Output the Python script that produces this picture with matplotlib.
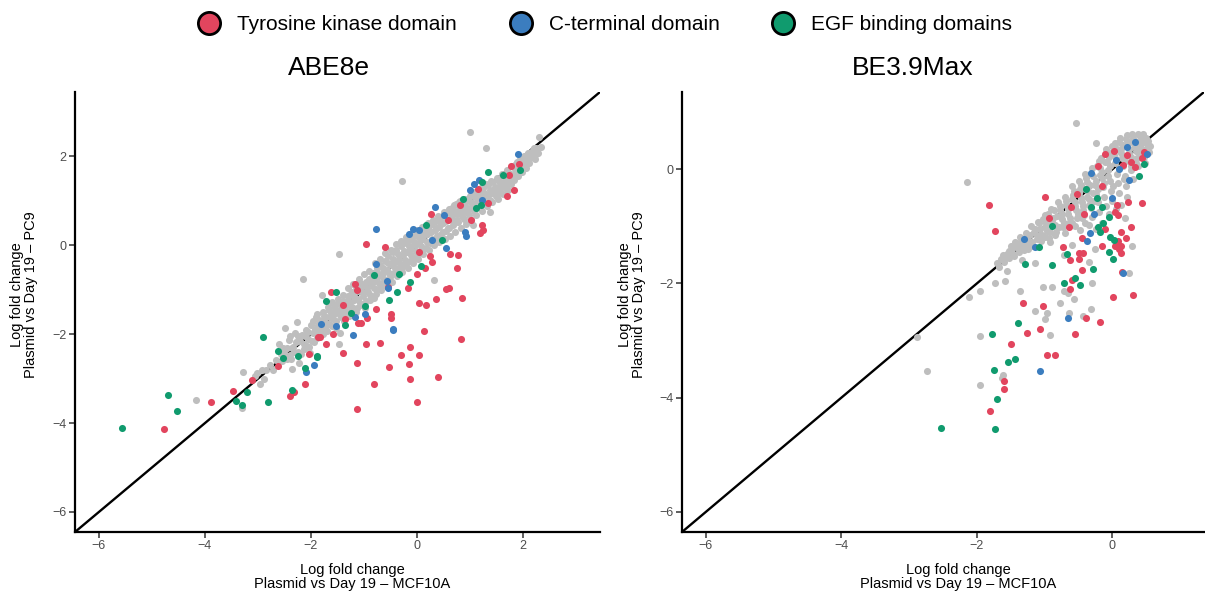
import numpy as np
import matplotlib.pyplot as plt
from matplotlib.lines import Line2D

plt.rcParams['font.family'] = ['Liberation Sans', 'DejaVu Sans']

# ── colours per domain ─────────────────────────────────────────
GREY = '#BEBEBE'
RED = '#E2455E'
BLUE = '#3B7DBF'
GREEN = '#109B6E'

domains = ['Tyrosine kinase domain', 'C-terminal domain', 'EGF binding domains']

# ── ABE8e: (MCF10A LFC, PC9 LFC) ───────────────────────────────
abe_other = [
    (-4.16, -3.47), (-3.31, -3.66), (-3.29, -2.86), (-3.06, -2.93), (-3.02, -2.87), (-2.96, -3.11),
    (-2.93, -2.81), (-2.88, -3.01), (-2.84, -2.80), (-2.78, -2.70), (-2.71, -2.81), (-2.66, -2.58),
    (-2.60, -2.22), (-2.57, -2.44), (-2.52, -2.31), (-2.49, -1.85), (-2.46, -2.55), (-2.42, -2.13),
    (-2.40, -2.04), (-2.40, -2.47), (-2.36, -2.79), (-2.35, -2.30), (-2.33, -2.28), (-2.30, -1.98),
    (-2.27, -1.72), (-2.25, -2.40), (-2.22, -2.64), (-2.20, -2.15), (-2.17, -2.02), (-2.16, -0.76),
    (-2.13, -2.33), (-2.10, -1.90), (-2.08, -2.27), (-2.05, -2.10), (-2.02, -2.43), (-2.00, -1.80),
    (-1.97, -1.98), (-1.94, -2.18), (-1.91, -1.62), (-1.89, -1.55), (-1.87, -1.80), (-1.84, -1.95),
    (-1.80, -1.11), (-1.80, -1.70), (-1.77, -1.50), (-1.74, -1.86), (-1.71, -1.62), (-1.68, -1.38),
    (-1.66, -1.76), (-1.63, -1.52), (-1.60, -1.28), (-1.58, -1.66), (-1.55, -1.42), (-1.52, -1.85),
    (-1.50, -1.20), (-1.48, -2.21), (-1.47, -0.20), (-1.46, -1.56), (-1.45, -1.98), (-1.43, -1.35),
    (-1.40, -1.12), (-1.38, -1.70), (-1.35, -1.46), (-1.32, -1.25), (-1.30, -0.95), (-1.28, -1.58),
    (-1.25, -1.10), (-1.22, -1.38), (-1.20, -0.88), (-1.18, -1.22), (-1.15, -1.50), (-1.12, -1.02),
    (-1.10, -0.75), (-1.08, -1.30), (-1.05, -0.92), (-1.02, -1.15), (-1.00, -0.65), (-0.98, -1.40),
    (-0.96, -0.82), (-0.93, -1.05), (-0.90, -0.58), (-0.88, -1.22), (-0.85, -0.72), (-0.82, -0.95),
    (-0.80, -0.40), (-0.78, -1.10), (-0.75, -0.60), (-0.72, -0.85), (-0.70, -0.30), (-0.68, -1.00),
    (-0.65, -0.50), (-0.62, -0.75), (-0.60, -0.18), (-0.58, -0.92), (-0.55, -0.40), (-0.52, -0.62),
    (-0.50, -0.10), (-0.48, -0.82), (-0.45, -0.30), (-0.42, -0.52), (-0.40, 0.02), (-0.38, -0.70),
    (-0.35, -0.20), (-0.32, -0.42), (-0.30, 0.10), (-0.28, -0.60), (-0.25, -0.12), (-0.22, -0.32),
    (-0.20, 0.18), (-0.18, -0.50), (-0.15, -0.02), (-0.12, -0.22), (-0.10, 0.28), (-0.08, -0.40),
    (-0.05, 0.08), (-0.02, -0.12), (0.00, 0.35), (0.02, -0.30), (0.05, 0.15), (0.08, -0.02),
    (0.10, 0.42), (0.12, -0.20), (0.15, 0.25), (0.18, 0.08), (0.20, 0.50), (0.22, -0.10),
    (0.25, 0.32), (0.28, 0.15), (0.30, 0.58), (0.32, 0.00), (0.35, 0.40), (0.38, 0.22),
    (0.40, 0.65), (0.42, 0.08), (0.45, 0.48), (0.48, 0.30), (0.50, 0.75), (0.52, 0.15),
    (0.55, 0.55), (0.58, 0.38), (0.60, 0.82), (0.62, 0.22), (0.65, 0.62), (0.68, 0.45),
    (0.70, 0.90), (0.72, 0.30), (0.75, 0.70), (0.78, 0.52), (0.80, 0.98), (0.82, 0.40),
    (0.85, 0.78), (0.88, 0.60), (0.90, 1.05), (0.92, 0.48), (0.95, 0.85), (0.98, 0.68),
    (1.00, 1.12), (1.02, 0.58), (1.06, 0.46), (1.05, 0.92), (1.08, 0.78), (1.10, 1.20),
    (1.12, 0.68), (1.15, 1.00), (1.18, 0.85), (1.20, 1.28), (1.22, 0.78), (1.25, 1.08),
    (1.28, 0.95), (1.30, 1.38), (1.30, 2.19), (1.32, 0.88), (1.35, 1.15), (1.38, 0.75),
    (1.38, 1.02), (1.40, 1.45), (1.42, 0.98), (1.45, 1.25), (1.48, 1.10), (1.50, 1.52),
    (1.52, 1.05), (1.55, 1.32), (1.58, 1.18), (1.60, 1.60), (1.62, 1.15), (1.65, 1.42),
    (1.68, 1.28), (1.70, 1.70), (1.72, 1.25), (1.75, 1.52), (1.78, 1.38), (1.80, 1.78),
    (1.82, 1.48), (1.85, 1.62), (1.88, 1.88), (1.90, 1.55), (1.92, 1.72), (1.95, 1.95),
    (1.98, 1.65), (2.00, 1.82), (2.02, 2.02), (2.05, 1.75), (2.08, 1.92), (2.10, 2.08),
    (2.12, 1.85), (2.15, 2.00), (2.18, 2.12), (2.22, 1.95), (2.25, 2.18), (2.30, 2.43),
    (2.28, 2.08), (1.00, 2.55), (-0.28, 1.45), (0.32, -0.79),
    (-2.55, -2.60), (-2.50, -2.42), (-2.45, -2.30), (-2.38, -2.55), (-2.32, -2.40), (-2.28, -2.18),
    (-2.24, -2.05), (-2.18, -2.45), (-2.14, -2.22), (-2.11, -2.05), (-2.06, -1.95), (-2.03, -2.28),
    (-1.99, -2.15), (-1.96, -1.70), (-1.92, -1.88), (-1.88, -2.08), (-1.85, -1.68), (-1.82, -1.85),
    (-1.78, -2.00), (-1.76, -1.60), (-1.72, -1.75), (-1.69, -1.92), (-1.66, -1.45), (-1.64, -1.62),
    (-1.61, -1.82), (-1.57, -1.35), (-1.56, -1.55), (-1.53, -1.70), (-1.50, -1.48), (-1.49, -1.30),
    (-1.44, -1.62), (-1.42, -1.45), (-1.39, -1.25), (-1.37, -1.55), (-1.34, -1.35), (-1.31, -1.15),
    (-1.29, -1.48), (-1.26, -1.28), (-1.23, -1.05), (-1.21, -1.52), (-1.19, -1.15), (-1.16, -0.98),
    (-1.13, -1.40), (-1.11, -1.20), (-1.07, -0.85), (-1.04, -1.35), (-1.01, -1.05), (-0.99, -0.88),
    (-0.97, -1.25), (-0.94, -0.95), (-0.91, -0.75), (-0.89, -1.12), (-0.86, -0.88), (-0.84, -0.62),
    (-0.81, -1.18), (-0.79, -0.80), (-0.76, -0.50), (-0.74, -0.98), (-0.71, -0.70), (-0.69, -0.45),
    (-0.66, -0.88), (-0.64, -0.62), (-0.61, -0.35), (-0.59, -0.80), (-0.56, -0.55), (-0.54, -0.25),
    (-0.51, -0.72), (-0.49, -0.45), (-0.46, -0.15), (-0.44, -0.62), (-0.41, -0.38), (-0.39, -0.10),
    (-0.36, -0.55), (-0.34, -0.30), (-0.31, -0.02), (-0.29, -0.48), (-0.26, -0.22), (-0.24, 0.05),
    (-0.21, -0.42), (-0.19, -0.15), (-0.16, 0.12), (-0.14, -0.35), (-0.11, -0.08), (-0.09, 0.18),
    (-0.06, -0.28), (-0.04, 0.00), (-0.01, 0.22), (0.01, -0.20), (0.04, 0.05), (0.06, 0.28),
    (0.09, -0.12), (0.11, 0.15), (0.14, 0.38), (0.16, -0.05), (0.19, 0.25), (0.21, 0.42),
    (0.24, 0.05), (0.26, 0.30), (0.29, 0.48), (0.31, 0.12), (0.34, 0.35), (0.36, 0.55),
    (0.39, 0.18), (0.41, 0.42), (0.44, 0.62), (0.46, 0.25), (0.49, 0.50), (0.51, 0.68),
    (0.54, 0.32), (0.56, 0.58), (0.59, 0.75), (0.61, 0.40), (0.64, 0.68), (0.66, 0.85),
    (0.69, 0.50), (0.71, 0.75), (0.74, 0.92), (0.76, 0.58), (0.79, 0.82), (0.81, 1.00),
    (0.84, 0.65), (0.86, 0.90), (0.89, 0.75), (0.91, 0.95), (0.94, 0.78), (0.96, 1.05),
    (0.99, 0.85), (1.01, 0.98), (1.04, 1.15), (1.07, 0.88), (1.09, 1.08), (1.13, 0.95),
    (1.14, 1.22), (1.17, 1.10), (1.21, 1.00), (1.24, 1.30), (1.27, 1.18), (1.31, 1.10),
    (1.34, 1.35), (1.37, 1.25), (1.41, 1.18), (1.44, 1.42), (1.47, 1.32), (1.51, 1.25),
    (1.54, 1.48), (1.57, 1.40), (1.61, 1.32), (1.64, 1.55), (1.67, 1.48), (1.71, 1.40),
    (1.74, 1.62), (1.77, 1.55), (1.81, 1.58), (1.84, 1.72), (1.87, 1.65), (1.91, 1.80),
    (1.94, 1.85), (1.97, 1.76), (2.01, 1.90), (2.04, 1.98), (2.07, 1.85), (2.11, 1.95),
    (2.14, 2.10), (2.17, 2.02), (2.21, 2.08), (2.24, 2.05), (2.27, 2.15), (2.20, 2.20),
    (2.33, 2.22),
]
abe_tk = [
    (-4.77, -4.14), (-3.89, -3.53), (-3.48, -3.28), (-3.12, -3.03), (-2.62, -2.71), (-2.40, -3.39),
    (-2.32, -3.30), (-2.11, -3.11), (-2.03, -2.45), (-1.86, -2.07), (-1.72, -2.21), (-1.58, -2.00),
    (-1.40, -2.42), (-1.14, -2.64), (-1.14, -3.69), (-0.96, -2.22), (-0.70, -2.20), (-0.81, -3.11),
    (-0.52, -2.73), (-0.31, -2.46), (-0.13, -2.28), (0.04, -2.46), (-0.16, -2.67), (-0.13, -3.01),
    (0.40, -2.96), (-0.01, -3.52), (0.82, -2.11), (0.14, -1.93), (-1.17, -0.88), (-1.40, -1.35),
    (-1.63, -1.06), (-1.36, -1.65), (-1.12, -1.74), (-0.97, 0.02), (-0.61, -0.04), (0.26, 0.71),
    (0.58, 0.58), (0.81, 0.91), (1.01, 0.56), (1.22, 0.45), (1.25, 0.34), (1.18, 0.28),
    (1.33, 0.96), (1.15, 1.26), (1.69, 1.11), (1.82, 1.24), (1.74, 1.59), (1.77, 1.78),
    (1.92, 1.84), (0.62, -0.20), (0.78, -0.22), (0.75, -0.50), (0.03, -0.16), (0.25, -0.24),
    (0.29, -0.37), (-0.01, -0.64), (0.15, -0.51), (0.54, -0.99), (0.60, -0.95), (0.85, -1.18),
    (0.36, -1.21), (0.04, -1.29), (0.17, -1.35), (-0.18, -0.96), (-0.54, -0.94), (-0.49, -1.54),
    (-0.50, -1.63), (-0.77, -1.44), (-0.95, -1.63), (-1.06, -1.74), (-1.83, -2.06), (-1.14, -1.01),
]
abe_ct = [
    (-0.77, 0.37), (-0.07, 0.37), (-0.16, 0.26), (0.34, 0.86), (0.50, 0.69), (1.08, 1.39),
    (1.16, 1.48), (1.00, 1.24), (1.23, 1.03), (0.91, 0.30), (0.92, 0.20), (0.54, -0.07),
    (0.28, 0.13), (0.04, 0.34), (-0.57, -0.81), (-0.55, -0.96), (-0.98, -1.54), (-1.17, -1.61),
    (-0.45, -1.89), (-1.21, -2.01), (-1.81, -1.76), (1.91, 2.06), (-0.78, -0.41), (-1.52, -1.82),
    (-1.94, -2.70), (-2.09, -2.85), (-0.46, -1.91),
]
abe_egf = [
    (0.16, 0.45), (0.47, 0.11), (0.86, 1.05), (1.11, 0.85), (1.21, 0.90), (1.22, 1.42),
    (1.33, 1.66), (1.62, 1.59), (1.94, 1.70), (-0.34, -0.64), (-0.13, -0.82), (0.08, -0.46),
    (-0.38, -1.05), (-0.52, -1.22), (-0.98, -1.37), (-1.25, -1.52), (-1.53, -1.06), (-1.72, -1.25),
    (-1.36, -1.80), (-0.82, -0.67), (-2.91, -2.07), (-2.62, -2.37), (-2.52, -2.53), (-2.24, -2.49),
    (-1.89, -2.49), (-2.11, -2.77), (-4.69, -3.37), (-4.53, -3.72), (-5.57, -4.10), (-3.42, -3.50),
    (-3.31, -3.60), (-3.21, -3.31), (-2.82, -3.52), (-2.35, -3.26), (-1.89, -2.51),
]

# ── BE3.9Max ───────────────────────────────────────────────────
bemax_other = [
    (-0.54, 0.80), (-0.25, 0.45), (-2.15, -0.22), (-1.59, -1.95), (-1.73, -1.99), (-1.95, -2.14),
    (-2.12, -2.23), (-1.55, -1.78), (-1.03, -2.07), (-0.89, -2.07), (-1.37, -2.14), (-0.72, -2.14),
    (-0.66, -2.16), (-0.57, -2.28), (-0.78, -2.34), (-1.15, -2.48), (-0.97, -2.51), (-0.99, -2.63),
    (-0.64, -2.51), (-0.30, -2.00), (-0.31, -2.44), (-0.44, -2.57), (0.24, -1.81), (-0.35, -1.62),
    (-1.95, -2.92), (-0.92, -2.90), (-2.89, -2.93), (0.29, -1.34), (0.18, -0.86), (-0.26, -1.39),
    (-0.59, -1.32), (-0.72, -1.50), (-0.48, -1.07), (-1.14, -1.64), (-1.33, -1.59), (-2.73, -3.53),
    (-1.62, -3.61), (-1.95, -3.78), (-1.63, -3.66),
    (-1.70, -1.64), (-1.68, -1.71), (-1.62, -1.50), (-1.58, -1.56), (-1.53, -1.43), (-1.50, -1.35),
    (-1.47, -1.48), (-1.44, -1.27), (-1.40, -1.38), (-1.36, -1.18), (-1.33, -1.30), (-1.30, -1.42),
    (-1.27, -1.12), (-1.24, -1.25), (-1.20, -1.00), (-1.18, -1.34), (-1.16, -1.10), (-1.12, -1.22),
    (-1.10, -0.92), (-1.07, -1.05), (-1.04, -1.16), (-1.00, -0.80), (-0.98, -0.95), (-0.96, -1.08),
    (-0.93, -1.20), (-0.90, -0.70), (-0.88, -0.85), (-0.85, -0.98), (-0.83, -1.10), (-0.80, -0.58),
    (-0.78, -0.72), (-0.75, -0.88), (-0.73, -1.02), (-0.70, -0.48), (-0.68, -0.62), (-0.66, -0.78),
    (-0.63, -0.92), (-0.60, -0.30), (-0.58, -0.45), (-0.56, -0.58), (-0.54, -0.72), (-0.52, -0.86),
    (-0.50, -0.20), (-0.48, -0.35), (-0.46, -0.50), (-0.44, -0.64), (-0.42, -0.80), (-0.40, -0.95),
    (-0.40, -0.08), (-0.38, -0.22), (-0.36, -0.38), (-0.34, -0.52), (-0.32, -0.68), (-0.30, -0.84),
    (-0.30, 0.02), (-0.28, -0.12), (-0.26, -0.28), (-0.24, -0.44), (-0.22, -0.58), (-0.20, -0.75),
    (-0.20, 0.15), (-0.18, 0.02), (-0.16, -0.15), (-0.14, -0.32), (-0.12, -0.48), (-0.10, -0.65),
    (-0.10, 0.28), (-0.08, 0.12), (-0.06, -0.02), (-0.04, -0.20), (-0.02, -0.38), (0.00, -0.55),
    (0.00, 0.40), (0.02, 0.25), (0.04, 0.10), (0.06, -0.08), (0.08, -0.25), (0.10, -0.42),
    (0.10, 0.48), (0.12, 0.35), (0.14, 0.20), (0.16, 0.05), (0.18, -0.12), (0.20, -0.30),
    (0.20, 0.52), (0.22, 0.40), (0.24, 0.28), (0.26, 0.12), (0.28, -0.02), (0.30, -0.18),
    (0.30, 0.55), (0.32, 0.44), (0.34, 0.32), (0.36, 0.20), (0.38, 0.05), (0.40, 0.58),
    (0.42, 0.46), (0.44, 0.35), (0.46, 0.22), (0.48, 0.10), (0.50, 0.55), (0.52, 0.42),
    (0.54, 0.30), (0.45, 0.62), (-0.05, -0.78), (-0.15, -0.95), (0.05, -0.70), (-0.25, -1.05),
    (0.12, -0.62), (-0.35, -0.98), (0.22, -0.48), (-0.55, -1.00), (-0.70, -1.12), (-0.92, -1.28),
    (-1.25, -1.40),
    (-1.65, -1.58), (-1.60, -1.62), (-1.56, -1.48), (-1.52, -1.55), (-1.48, -1.40), (-1.45, -1.52),
    (-1.42, -1.32), (-1.38, -1.45), (-1.35, -1.25), (-1.32, -1.38), (-1.29, -1.20), (-1.26, -1.32),
    (-1.22, -1.15), (-1.19, -1.28), (-1.14, -1.05), (-1.11, -1.15), (-1.08, -0.95), (-1.05, -1.25),
    (-1.02, -0.88), (-0.99, -1.02), (-0.95, -0.78), (-0.92, -1.10), (-0.89, -0.92), (-0.86, -0.72),
    (-0.82, -0.82), (-0.79, -1.02), (-0.77, -0.65), (-0.74, -0.78), (-0.71, -0.95), (-0.69, -0.55),
    (-0.65, -0.70), (-0.62, -0.85), (-0.59, -0.52), (-0.57, -0.38), (-0.55, -0.65), (-0.51, -0.78),
    (-0.49, -0.42), (-0.47, -0.28), (-0.45, -0.58), (-0.43, -0.72), (-0.41, -0.35), (-0.39, -0.15),
    (-0.37, -0.48), (-0.35, -0.62), (-0.33, -0.28), (-0.31, -0.08), (-0.29, -0.42), (-0.27, -0.55),
    (-0.25, -0.20), (-0.23, 0.05), (-0.21, -0.35), (-0.19, -0.10), (-0.17, 0.20), (-0.15, -0.05),
    (-0.13, -0.25), (-0.11, 0.12), (-0.09, 0.35), (-0.07, -0.12), (-0.05, 0.22), (-0.03, 0.05),
    (-0.01, 0.30), (0.01, -0.30), (0.03, 0.45), (0.05, 0.18), (0.07, 0.35), (0.09, 0.02),
    (0.11, 0.55), (0.13, 0.28), (0.15, 0.42), (0.17, -0.18), (0.19, 0.15), (0.21, 0.60),
    (0.23, 0.48), (0.25, 0.35), (0.27, 0.22), (0.29, 0.62), (0.31, 0.50), (0.33, 0.38),
    (0.35, 0.10), (0.37, 0.62), (0.39, 0.50), (0.41, 0.40), (0.43, 0.28), (0.47, 0.55),
    (0.49, 0.45), (0.51, 0.35), (0.53, 0.50), (0.55, 0.40), (0.38, 0.30), (0.27, 0.05),
    (-0.45, -0.85), (-0.60, -0.95), (-0.85, -1.15), (-1.00, -1.18),
]
bemax_tk = [
    (-1.82, -0.63), (-1.73, -1.08), (-1.00, -0.48), (-0.93, -0.86), (-0.61, -0.66), (-0.64, -1.02),
    (-0.73, -1.37), (-0.49, -1.47), (-0.43, -1.47), (-0.63, -1.59), (-0.50, -1.57), (-0.45, -1.77),
    (-0.59, -1.94), (-0.63, -2.09), (-0.42, -0.78), (-0.53, -0.44), (-0.15, -0.29), (-0.21, 0.06),
    (-0.11, 0.26), (0.02, 0.31), (0.21, 0.24), (0.16, 0.07), (0.28, 0.13), (0.33, 0.04),
    (0.47, 0.30), (0.44, 0.19), (0.06, -0.63), (0.03, -0.75), (0.08, -0.80), (0.23, -0.58),
    (0.43, -0.60), (-0.11, -1.04), (-0.16, -1.34), (0.03, -1.35), (0.10, -1.40), (0.13, -1.35),
    (0.12, -1.46), (0.13, -1.10), (0.20, -1.21), (0.28, -1.02), (0.08, -1.25), (0.14, -1.80),
    (0.01, -2.24), (0.31, -2.20), (-0.19, -2.67), (-0.39, -2.60), (-1.03, -2.39), (-1.32, -2.34),
    (-1.26, -2.87), (-1.07, -2.80), (-0.55, -2.89), (-1.49, -3.06), (-0.97, -3.26), (-0.85, -3.26),
    (-1.60, -3.71), (-1.60, -3.85), (-1.80, -4.23), (-0.45, -1.21),
]
bemax_ct = [
    (-1.31, -1.22), (-0.31, -0.06), (0.05, 0.16), (0.21, 0.38), (0.33, 0.48), (0.51, 0.27),
    (0.10, 0.00), (0.25, -0.19), (0.00, -0.50), (-0.27, -0.78), (-0.33, -1.12), (-0.38, -1.26),
    (0.15, -1.81), (-0.65, -2.60), (-1.15, -1.36), (-1.07, -3.53),
]
bemax_egf = [
    (-1.09, -1.37), (-1.29, -1.66), (-0.89, -1.67), (-0.67, -1.49), (-0.39, -0.35), (-0.23, -0.51),
    (-0.32, -0.67), (-0.15, -0.66), (-0.05, -0.84), (-0.21, -1.01), (-0.14, -0.95), (-0.18, -1.10),
    (-0.04, -1.18), (0.02, -1.24), (-0.05, -1.45), (0.01, -1.58), (-0.28, -1.74), (-0.56, -1.91),
    (-0.48, -2.03), (-0.72, -2.00), (-1.39, -2.70), (-1.78, -2.89), (0.47, 0.09), (0.39, -0.12),
    (-0.89, -1.00), (-1.54, -3.38), (-1.44, -3.33), (-1.75, -3.51), (-1.70, -4.03), (-2.53, -4.53),
    (-1.73, -4.55),
]

panels = [
    ('ABE8e', abe_other, abe_tk, abe_ct, abe_egf, (-6.45, 3.45), [-6, -4, -2, 0, 2]),
    ('BE3.9Max', bemax_other, bemax_tk, bemax_ct, bemax_egf, (-6.35, 1.35), [-6, -4, -2, 0]),
]

fig = plt.figure(figsize=(12.05, 5.93), dpi=100)
W, H = 1205, 593
ax_boxes = [(75, 600), (682, 1204)]
title_x = [329, 913]
xlab_x = [352, 958]
ylab_x = [24, 632]

for (name, other, tk, ct, egf, lim, ticks), (x0, x1), tx, lx, ly in zip(
        panels, ax_boxes, title_x, xlab_x, ylab_x):
    ax = fig.add_axes([x0 / W, 1 - 532 / H, (x1 - x0) / W, 440 / H])
    for pts, col in [(other, GREY), (tk, RED), (ct, BLUE), (egf, GREEN)]:
        p = np.array(pts)
        ax.scatter(p[:, 0], p[:, 1], s=26, color=col, linewidths=0, zorder=3)
    ax.plot(lim, lim, color='black', lw=1.7, zorder=2)
    ax.set_xlim(lim)
    ax.set_ylim(lim)
    ax.set_xticks(ticks)
    ax.set_yticks(ticks)
    for s in ['top', 'right']:
        ax.spines[s].set_visible(False)
    for s in ['left', 'bottom']:
        ax.spines[s].set_linewidth(1.6)
    ax.tick_params(length=4, width=1.1, color='#333333', labelcolor='#4D4D4D',
                   labelsize=9, pad=2)
    fig.text(tx / W, 1 - 68 / H, name, ha='center', va='center', fontsize=19)
    fig.text(lx / W, 1 - 577 / H, 'Log fold change\nPlasmid vs Day 19 – MCF10A',
             ha='center', va='center', fontsize=10.5, linespacing=0.95)
    fig.text(ly / W, 1 - 295 / H, 'Log fold change\nPlasmid vs Day 19 – PC9',
             ha='center', va='center', rotation=90, fontsize=10.5, linespacing=0.95)

handles = [Line2D([], [], ls='none', marker='o', markersize=16, markerfacecolor=c,
                  markeredgecolor='black', markeredgewidth=2)
           for c in (RED, BLUE, GREEN)]
fig.legend(handles, domains, loc='center', bbox_to_anchor=(0.502, 1 - 25 / H), ncol=3,
           frameon=False, fontsize=15, handlelength=1.1, handletextpad=0.8,
           columnspacing=2.5)

plt.savefig('out.png', dpi=100)
